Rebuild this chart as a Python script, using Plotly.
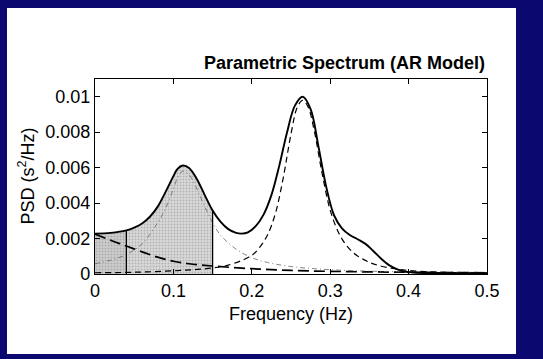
import plotly.graph_objects as go

# Total AR spectrum (solid line)
total_f = [0.0, 0.02, 0.04, 0.05, 0.06, 0.07, 0.08, 0.09, 0.10, 0.105, 0.112, 0.12,
           0.13, 0.14, 0.15, 0.16, 0.17, 0.18, 0.187, 0.195, 0.205, 0.215, 0.225,
           0.235, 0.245, 0.255, 0.265, 0.275, 0.285, 0.295, 0.305, 0.315, 0.325,
           0.335, 0.345, 0.355, 0.365, 0.375, 0.385, 0.395, 0.40, 0.41, 0.45, 0.5]
total_psd = [0.00228, 0.00232, 0.00246, 0.00262, 0.00285, 0.00323, 0.0038, 0.00463,
             0.00552, 0.00592, 0.00612, 0.00598, 0.00535, 0.00445, 0.00358, 0.00295,
             0.00253, 0.00232, 0.00228, 0.00235, 0.0027, 0.00335, 0.00445, 0.0061,
             0.0080, 0.0095, 0.0100, 0.0093, 0.0072, 0.0049, 0.0033, 0.00258, 0.0022,
             0.00196, 0.00170, 0.0013, 0.00086, 0.0005, 0.00028, 0.00014, 0.00011,
             0.00007, 0.00005, 0.00004]

# VLF component (long dashes)
vlf_f = [0.0, 0.02, 0.04, 0.06, 0.08, 0.10, 0.12, 0.15, 0.20, 0.25, 0.30, 0.35,
         0.40, 0.45, 0.5]
vlf_psd = [0.00225, 0.0019, 0.00158, 0.00125, 0.00095, 0.00072, 0.00058, 0.00045,
           0.0003, 0.0002, 0.00015, 0.00012, 0.0001, 0.00008, 0.00007]

# LF component (dash-dot)
lf_f = [0.0, 0.02, 0.04, 0.06, 0.08, 0.09, 0.10, 0.106, 0.112, 0.12, 0.13, 0.14,
        0.15, 0.16, 0.18, 0.20, 0.22, 0.25, 0.28, 0.32, 0.36, 0.40, 0.45, 0.5]
lf_psd = [0.00058, 0.00078, 0.0011, 0.0017, 0.0029, 0.0037, 0.0048, 0.0055, 0.0058,
          0.0056, 0.0048, 0.0038, 0.0029, 0.0022, 0.0014, 0.00092, 0.00065, 0.00042,
          0.0003, 0.0002, 0.00015, 0.00012, 0.0001, 0.00009]

# HF component (dashed)
hf_f = [0.0, 0.05, 0.10, 0.13, 0.15, 0.17, 0.19, 0.20, 0.21, 0.22, 0.23, 0.24, 0.25,
        0.258, 0.265, 0.272, 0.28, 0.29, 0.30, 0.31, 0.32, 0.33, 0.34, 0.35, 0.36,
        0.38, 0.40, 0.43, 0.46, 0.5]
hf_psd = [0.00007, 0.0001, 0.00018, 0.00026, 0.00034, 0.0005, 0.00082, 0.00105,
          0.0015, 0.0022, 0.0034, 0.0054, 0.0079, 0.0094, 0.0098, 0.0094, 0.0080,
          0.0056, 0.0036, 0.0024, 0.00165, 0.00118, 0.00088, 0.00066, 0.0005,
          0.00031, 0.0002, 0.00012, 0.00008, 0.00006]

# Band limits (VLF | LF | HF)
band_edges = [0.04, 0.15, 0.4]

x_ticks = [0, 0.1, 0.2, 0.3, 0.4, 0.5]
x_labels = ["0", "0.1", "0.2", "0.3", "0.4", "0.5"]
y_ticks = [0, 0.002, 0.004, 0.006, 0.008, 0.01]
y_labels = ["0", "0.002", "0.004", "0.006", "0.008", "0.01"]

FONT = "Liberation Sans, Arial, Helvetica, sans-serif"
NAVY = "#0b0970"
FS = 18

fig = go.Figure()


def band(lo, hi):
    pts = [(f, p) for f, p in zip(total_f, total_psd) if lo <= f <= hi]
    return [p[0] for p in pts], [p[1] for p in pts]


# Stippled areas under the spectrum for the VLF and LF bands
for (lo, hi), bg in [((0.0, band_edges[0]), "#cdcdcd"),
                     ((band_edges[0], band_edges[1]), "#dadada")]:
    bx, by = band(lo, hi)
    fig.add_trace(go.Scatter(
        x=bx, y=by, mode="lines", line=dict(width=0, shape="spline"),
        fill="tozeroy", fillcolor=bg,
        fillpattern=dict(shape=".", fgcolor="#8a8a8a", bgcolor=bg, size=3, solidity=0.35),
        hoverinfo="skip", showlegend=False))

# Spectral components
fig.add_trace(go.Scatter(x=vlf_f, y=vlf_psd, mode="lines", showlegend=False,
                         line=dict(color="black", width=1.7, dash="11px,5px", shape="spline")))
fig.add_trace(go.Scatter(x=lf_f, y=lf_psd, mode="lines", showlegend=False,
                         line=dict(color="#666666", width=0.8, dash="5px,3px,1px,3px",
                                   shape="spline")))
fig.add_trace(go.Scatter(x=hf_f, y=hf_psd, mode="lines", showlegend=False,
                         line=dict(color="black", width=1.2, dash="6px,4px", shape="spline")))

# Total spectrum
fig.add_trace(go.Scatter(x=total_f, y=total_psd, mode="lines", showlegend=False,
                         line=dict(color="black", width=1.9, shape="spline")))

# Vertical band boundaries up to the spectrum
for edge in band_edges:
    top = total_psd[total_f.index(edge)]
    fig.add_trace(go.Scatter(x=[edge, edge], y=[0, top], mode="lines", showlegend=False,
                             line=dict(color="black", width=1.3)))

axis_common = dict(showline=True, linecolor="black", linewidth=1.3, mirror="ticks",
                   ticks="inside", ticklen=5, tickcolor="black", tickwidth=1,
                   showgrid=False, zeroline=False,
                   tickfont=dict(family=FONT, size=FS, color="black"))

fig.update_xaxes(range=[0, 0.5], tickvals=x_ticks, ticktext=x_labels, **axis_common)
fig.update_yaxes(range=[0, 0.011], tickvals=y_ticks, ticktext=y_labels, **axis_common)

fig.update_layout(
    width=543, height=359,
    margin=dict(l=95, r=56, t=79, b=85),
    paper_bgcolor=NAVY, plot_bgcolor="white",
    shapes=[dict(type="rect", xref="paper", yref="paper", layer="below",
                 x0=-0.2245, x1=1.074, y0=-0.41, y1=1.364,
                 fillcolor="white", line=dict(width=0))],
    annotations=[
        dict(text="<b>Parametric Spectrum (AR Model)</b>", xref="paper", yref="paper",
             x=1.0, y=1.0, xanchor="right", yanchor="bottom", yshift=4, showarrow=False,
             font=dict(family=FONT, size=FS, color="black")),
        dict(text="Frequency (Hz)", xref="paper", yref="paper", x=0.5, y=0,
             xanchor="center", yanchor="middle", yshift=-40, showarrow=False,
             font=dict(family=FONT, size=FS, color="black")),
        dict(text="PSD (s<sup>2</sup>/Hz)", xref="paper", yref="paper", x=0, y=0.5,
             xanchor="center", yanchor="middle", xshift=-68, textangle=-90,
             showarrow=False, font=dict(family=FONT, size=FS, color="black")),
    ],
)

fig.write_html("out.html")
